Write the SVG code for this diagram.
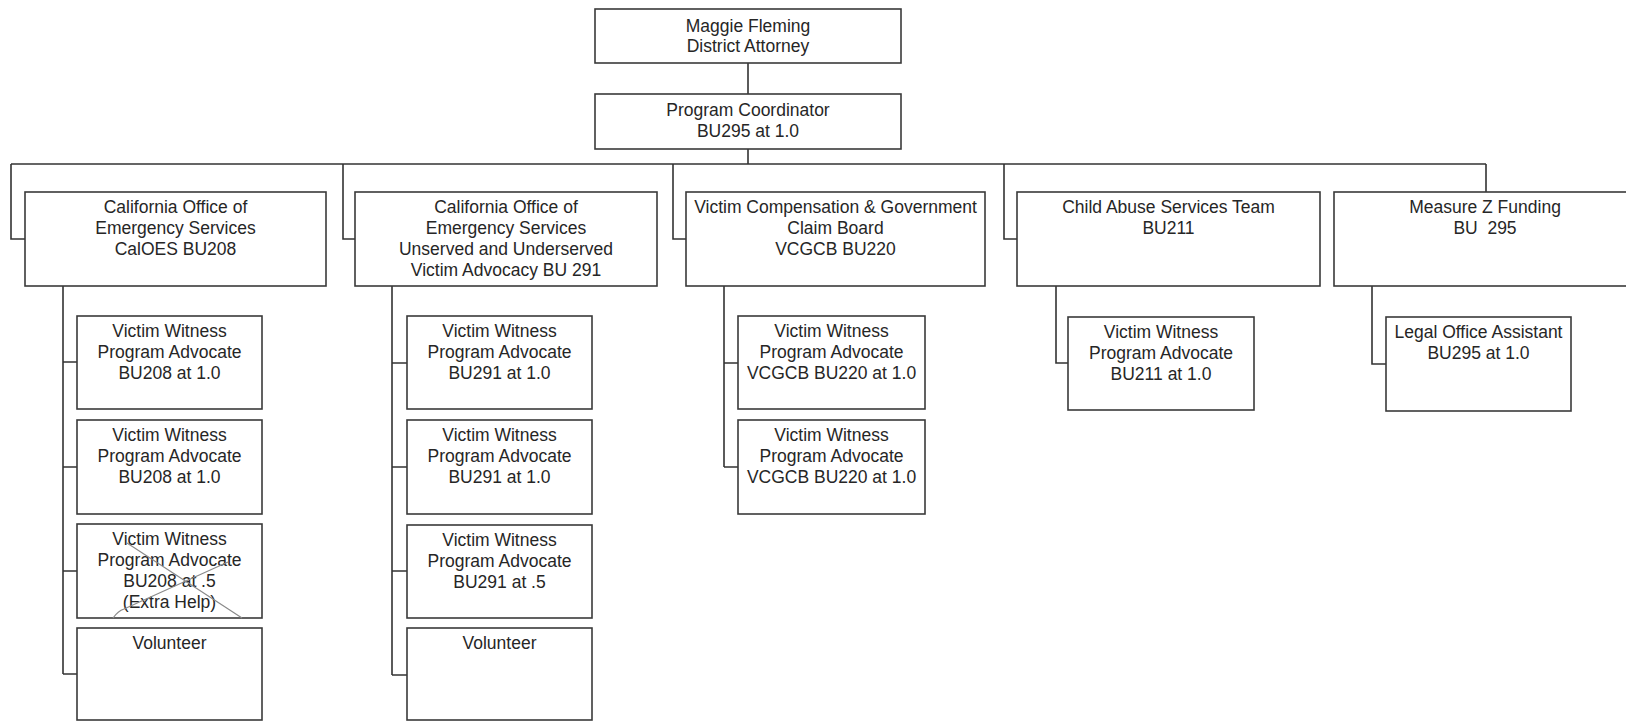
<svg xmlns="http://www.w3.org/2000/svg" width="1626" height="721" viewBox="0 0 1626 721">
<style>
.box{fill:#fff;stroke:#3a3a3a;stroke-width:1.6}
.ln{fill:none;stroke:#333;stroke-width:1.6}
.x{fill:none;stroke:#8a8a8a;stroke-width:1.2}
text{font-family:"Liberation Sans",Arial,sans-serif;font-size:17.5px;fill:#262626;text-anchor:middle}
</style>
<rect width="1626" height="721" fill="#fff"/>
<g id="connectors">
<path class="ln" d="M748 63V94M748 149V164M11 164H1486M11 164V239H25M343 164V239H355M673 164V239H686M1004 164V239H1017M1486 164V192"/>
<path class="ln" d="M63 286V674M63 362H77M63 467H77M63 571H77M63 674H77"/>
<path class="ln" d="M392 286V675M392 363H407M392 467H407M392 571H407M392 675H407"/>
<path class="ln" d="M724 286V467M724 363H738M724 467H738"/>
<path class="ln" d="M1056 286V363H1068"/>
<path class="ln" d="M1372 286V364H1386"/>
</g>
<g id="da"><rect class="box" x="595" y="9" width="306" height="54"/><text x="748" y="32">Maggie Fleming</text><text x="748" y="52">District Attorney</text></g>
<g id="pc"><rect class="box" x="595" y="94" width="306" height="55"/><text x="748" y="116">Program Coordinator</text><text x="748" y="137">BU295 at 1.0</text></g>
<g id="caloes"><rect class="box" x="25" y="192" width="301" height="94"/><text x="175.5" y="213">California Office of</text><text x="175.5" y="234">Emergency Services</text><text x="175.5" y="255">CalOES BU208</text></g>
<g id="uu"><rect class="box" x="355" y="192" width="302" height="94"/><text x="506" y="213">California Office of</text><text x="506" y="234">Emergency Services</text><text x="506" y="255">Unserved and Underserved</text><text x="506" y="276">Victim Advocacy BU 291</text></g>
<g id="vcgcb"><rect class="box" x="686" y="192" width="299" height="94"/><text x="835.5" y="213">Victim Compensation &amp; Government</text><text x="835.5" y="234">Claim Board</text><text x="835.5" y="255">VCGCB BU220</text></g>
<g id="cast"><rect class="box" x="1017" y="192" width="303" height="94"/><text x="1168.5" y="213">Child Abuse Services Team</text><text x="1168.5" y="234">BU211</text></g>
<g id="mz"><rect class="box" x="1334" y="192" width="310" height="94"/><text x="1485" y="213">Measure Z Funding</text><text x="1485" y="234" xml:space="preserve">BU  295</text></g>
<g id="c1a"><rect class="box" x="77" y="316" width="185" height="93"/><text x="169.5" y="337">Victim Witness</text><text x="169.5" y="358">Program Advocate</text><text x="169.5" y="379">BU208 at 1.0</text></g>
<g id="c1b"><rect class="box" x="77" y="420" width="185" height="94"/><text x="169.5" y="441">Victim Witness</text><text x="169.5" y="462">Program Advocate</text><text x="169.5" y="483">BU208 at 1.0</text></g>
<g id="c1c"><rect class="box" x="77" y="524" width="185" height="94"/><text x="169.5" y="545">Victim Witness</text><text x="169.5" y="566">Program Advocate</text><text x="169.5" y="587">BU208 at .5</text><text x="169.5" y="608">(Extra Help)</text>
<path class="x" d="M127 543L242 618M113 618Q118 611 124 609L228 562"/></g>
<g id="c1d"><rect class="box" x="77" y="628" width="185" height="92"/><text x="169.5" y="649">Volunteer</text></g>
<g id="c2a"><rect class="box" x="407" y="316" width="185" height="93"/><text x="499.5" y="337">Victim Witness</text><text x="499.5" y="358">Program Advocate</text><text x="499.5" y="379">BU291 at 1.0</text></g>
<g id="c2b"><rect class="box" x="407" y="420" width="185" height="94"/><text x="499.5" y="441">Victim Witness</text><text x="499.5" y="462">Program Advocate</text><text x="499.5" y="483">BU291 at 1.0</text></g>
<g id="c2c"><rect class="box" x="407" y="525" width="185" height="93"/><text x="499.5" y="546">Victim Witness</text><text x="499.5" y="567">Program Advocate</text><text x="499.5" y="588">BU291 at .5</text></g>
<g id="c2d"><rect class="box" x="407" y="628" width="185" height="92"/><text x="499.5" y="649">Volunteer</text></g>
<g id="c3a"><rect class="box" x="738" y="316" width="187" height="93"/><text x="831.5" y="337">Victim Witness</text><text x="831.5" y="358">Program Advocate</text><text x="831.5" y="379">VCGCB BU220 at 1.0</text></g>
<g id="c3b"><rect class="box" x="738" y="420" width="187" height="94"/><text x="831.5" y="441">Victim Witness</text><text x="831.5" y="462">Program Advocate</text><text x="831.5" y="483">VCGCB BU220 at 1.0</text></g>
<g id="c4a"><rect class="box" x="1068" y="317" width="186" height="93"/><text x="1161" y="338">Victim Witness</text><text x="1161" y="359">Program Advocate</text><text x="1161" y="380">BU211 at 1.0</text></g>
<g id="c5a"><rect class="box" x="1386" y="317" width="185" height="94"/><text x="1478.5" y="338">Legal Office Assistant</text><text x="1478.5" y="359">BU295 at 1.0</text></g>
</svg>
